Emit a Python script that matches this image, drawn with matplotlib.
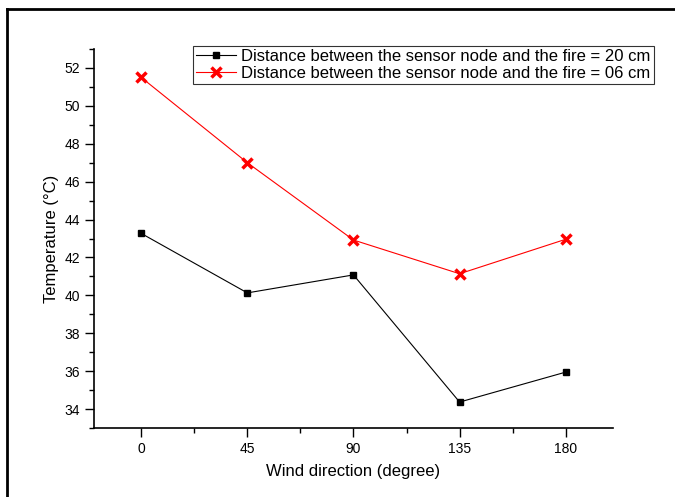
import matplotlib
matplotlib.use('Agg')
import matplotlib.pyplot as plt
from matplotlib.lines import Line2D
from matplotlib.ticker import MultipleLocator

plt.rcParams['font.family'] = ['Liberation Sans', 'DejaVu Sans']

wind_dir = [0, 45, 90, 135, 180]
temp_20cm = [43.27, 40.13, 41.08, 34.37, 35.95]
temp_06cm = [51.5, 47.0, 42.92, 41.14, 42.96]

label_20 = 'Distance between the sensor node and the fire = 20 cm'
label_06 = 'Distance between the sensor node and the fire = 06 cm'

fig = plt.figure(figsize=(6.75, 4.97), dpi=100)
ax = fig.add_axes([0.1393, 0.1388, 0.7687, 0.7626])

ax.plot(wind_dir, temp_20cm, color='black', linewidth=0.8, marker='s',
        markersize=5, label=label_20)
ax.plot(wind_dir, temp_06cm, color='red', linewidth=0.8, marker='x',
        markersize=7, markeredgewidth=2.5, label=label_06)

ax.set_xlim(-20, 200)
ax.set_xticks(wind_dir)
ax.xaxis.set_minor_locator(MultipleLocator(22.5))
ax.set_yticks(range(34, 53, 2))
ax.yaxis.set_minor_locator(MultipleLocator(1))
ax.set_ylim(33, 53)

for s in ['top', 'right']:
    ax.spines[s].set_visible(False)
for s in ['left', 'bottom']:
    ax.spines[s].set_linewidth(1.2)

ax.tick_params(which='major', direction='out', length=6.5, width=1, labelsize=10, colors='black')
ax.tick_params(which='minor', direction='out', length=3.5, width=1)

ax.set_xlabel('Wind direction (degree)', fontsize=12, labelpad=6)
ax.set_ylabel('Temperature (°C)', fontsize=12)

leg = ax.legend(loc='upper right', bbox_to_anchor=(654 / 675, 1 - 46 / 497),
                bbox_transform=fig.transFigure, fontsize=12, frameon=True,
                fancybox=False, edgecolor='black', handlelength=2.4,
                borderpad=0.2, labelspacing=0.1, handletextpad=0.3,
                borderaxespad=0)
leg.get_frame().set_linewidth(0.8)

# outer frame (only top and left edges visible)
fig.add_artist(Line2D([7 / 675, 7 / 675], [0, 1 - 9 / 497], color='black', linewidth=2,
                      transform=fig.transFigure))
fig.add_artist(Line2D([7 / 675, 674 / 675], [1 - 9 / 497, 1 - 9 / 497], color='black',
                      linewidth=2, transform=fig.transFigure))

fig.savefig('out.png', dpi=100)
